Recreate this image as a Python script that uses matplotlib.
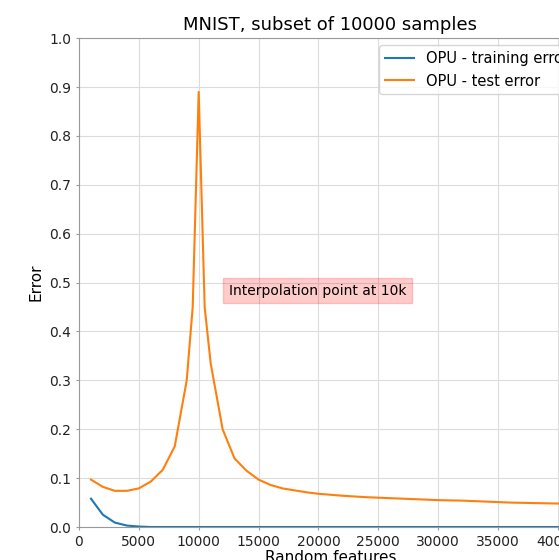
import matplotlib
matplotlib.use("Agg")
import matplotlib.pyplot as plt

# random features (number of projections)
features = [1000, 2000, 3000, 4000, 5000, 6000, 7000, 8000, 9000, 9500,
            10000, 10500, 11000, 12000, 13000, 14000, 15000, 16000, 17000,
            18000, 19000, 20000, 22000, 24000, 26000, 28000, 30000, 32000,
            34000, 36000, 38000, 40000]

train_error = [0.058, 0.025, 0.009, 0.003, 0.001, 0.0, 0.0, 0.0, 0.0, 0.0,
               0.0, 0.0, 0.0, 0.0, 0.0, 0.0, 0.0, 0.0, 0.0,
               0.0, 0.0, 0.0, 0.0, 0.0, 0.0, 0.0, 0.0, 0.0,
               0.0, 0.0, 0.0, 0.0]

test_error = [0.097, 0.082, 0.074, 0.074, 0.079, 0.093, 0.117, 0.165, 0.30, 0.45,
              0.89, 0.45, 0.335, 0.20, 0.14, 0.115, 0.097, 0.086, 0.079,
              0.075, 0.071, 0.068, 0.064, 0.061, 0.059, 0.057, 0.055, 0.054,
              0.052, 0.050, 0.049, 0.048]

fig = plt.figure(figsize=(5.59, 5.6), dpi=100)
# the original picture is cropped on the right, so the axes run past the figure edge
ax = fig.add_axes([0.1413, 0.0589, 0.8998, 0.873])

ax.plot(features, train_error, label='OPU - training error')
ax.plot(features, test_error, label='OPU - test error')
ax.text(12500, 0.475, 'Interpolation point at 10k',
        bbox=dict(facecolor='red', alpha=0.2, edgecolor='red'))

ax.set_xlim(0, 42020)
ax.set_ylim(0, 1.0)
ax.set_xticks([0, 5000, 10000, 15000, 20000, 25000, 30000, 35000, 40000])
ax.set_yticks([0.0, 0.1, 0.2, 0.3, 0.4, 0.5, 0.6, 0.7, 0.8, 0.9, 1.0])
ax.set_title('MNIST, subset of 10000 samples', fontsize=13)
ax.set_xlabel('Random features', fontsize=11, labelpad=1)
ax.set_ylabel('Error', fontsize=11)
ax.grid(True, color='#dcdcdc', linewidth=0.8)
ax.tick_params(length=2, color='#999999', colors='#222222')
for s in ax.spines.values():
    s.set_color('#999999')
ax.legend(loc='upper right', fontsize=10.5)

fig.savefig('out.png', dpi=100)
